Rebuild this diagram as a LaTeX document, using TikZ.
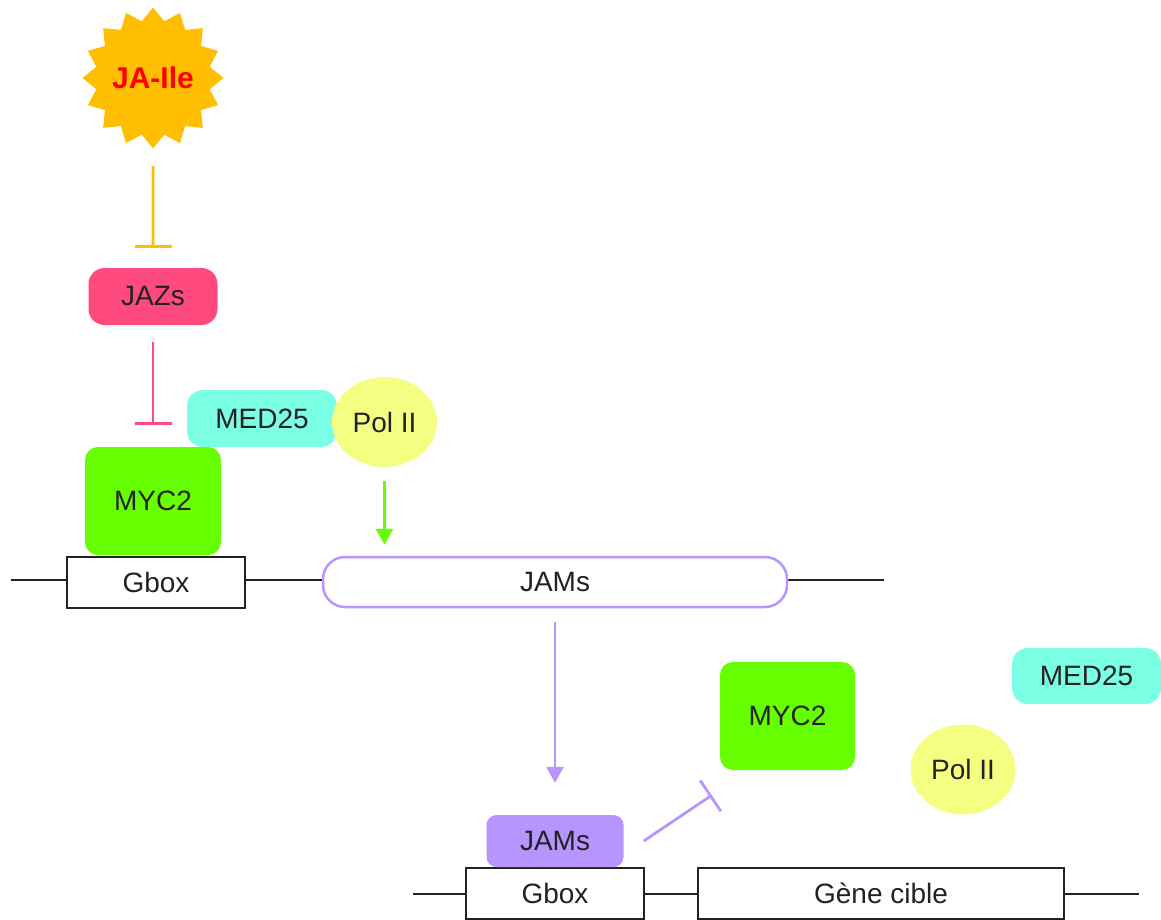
\documentclass[tikz,border=0pt]{standalone}
\usepackage{fontspec}
\setmainfont{Liberation Sans}
\usetikzlibrary{shapes.geometric,arrows.meta}
\definecolor{starc}{HTML}{FFBF00}
\definecolor{jazc}{HTML}{FF4A80}
\definecolor{medc}{HTML}{7AFFE4}
\definecolor{polc}{HTML}{F4FF82}
\definecolor{mycc}{HTML}{66FF00}
\definecolor{jamc}{HTML}{B894FF}
\definecolor{txt}{HTML}{222222}
\begin{document}
\begin{tikzpicture}[x=1pt,y=-1pt,
  lbl/.style={font=\fontsize{28}{32}\selectfont, text=txt, inner sep=0pt},
  prot/.style={lbl, rounded corners=#1},
  gene/.style={lbl, draw=txt, line width=2.5pt, fill=white},
  pol/.style={lbl, ellipse, fill=polc, minimum width=105pt, minimum height=90pt},
  dna/.style={draw=txt, line width=1.2pt},
  inhib/.style={line width=2.8pt, -{Bar[width=37pt]}},
  activ/.style={line width=2.8pt, -{Triangle[width=17pt,length=16pt]}}
]
\useasboundingbox (0,0) rectangle (1161,920);

% DNA lines
\coordinate (l1) at (11,580);
\coordinate (r1) at (884,580);
\coordinate (l2) at (413,894);
\coordinate (r2) at (1139,894);
\draw[dna] (l1) -- (r1);
\draw[dna] (l2) -- (r2);

% top part
\node[star, star points=16, star point ratio=1.22, minimum size=117pt, inner sep=0pt,
  fill=starc, text=red, font=\bfseries\fontsize{30}{34}\selectfont] (ja) at (153,78) {JA-Ile};
\node[prot=16pt, fill=jazc, minimum width=129pt, minimum height=57pt] (jaz) at (153,296.5) {JAZs};
\node[gene, minimum width=178pt, minimum height=51pt] (gb1) at (156,582.5) {Gbox};
\node[lbl, draw=jamc, line width=2.5pt, fill=white, rounded corners=22pt,
  minimum width=464pt, minimum height=50pt] (jamline) at (555,582) {JAMs};
\node[prot=13pt, fill=mycc, minimum width=136pt, minimum height=108pt] (myc1) at (153,501) {MYC2};
\node[prot=16pt, fill=medc, minimum width=150pt, minimum height=57pt] (med1) at (262,418.5) {MED25};
\node[pol] (pol1) at (384.5,422) {Pol II};

% bottom part
\node[gene, minimum width=178pt, minimum height=51pt] (gb2) at (555,893.5) {Gbox};
\node[gene, minimum width=366pt, minimum height=51pt] (gc) at (881,893.5) {Gène cible};
\node[prot=10pt, fill=jamc, minimum width=137pt, minimum height=52pt] (jams2) at (555,841) {JAMs};
\node[prot=13pt, fill=mycc, minimum width=135pt, minimum height=108pt] (myc2) at (787.5,716) {MYC2};
\node[prot=16pt, fill=medc, minimum width=149pt, minimum height=56pt] (med2) at (1086.5,676) {MED25};
\node[pol] (pol2) at (963,769.5) {Pol II};

% connectors
\draw[starc, inhib, shorten <=17pt, shorten >=20pt] (ja.south) -- (jaz.north);
\draw[jazc, inhib, shorten <=17pt, shorten >=22pt] (jaz.south) -- (myc1.north);
\draw[mycc, activ, shorten <=14pt, shorten >=11pt] (pol1.south) -- (pol1.south |- jamline.north);
\draw[jamc, activ, shorten <=14pt, shorten >=32pt] (jamline.south) -- (jams2.north);
\draw[jamc, inhib] ([xshift=20pt]jams2.east) -- ([xshift=-8pt,yshift=-25pt]myc2.south west);
\end{tikzpicture}
\end{document}
